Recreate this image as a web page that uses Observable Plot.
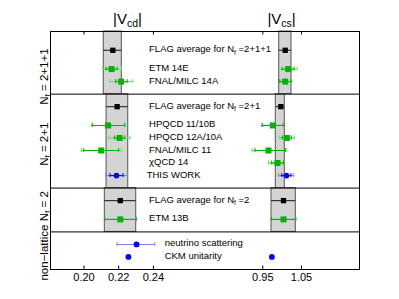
<!DOCTYPE html>
<html><head><meta charset="utf-8">
<script src="https://cdn.jsdelivr.net/npm/d3@7"></script>
<script src="https://cdn.jsdelivr.net/npm/@observablehq/plot@0.6"></script>
<style>body{margin:0;background:#fff} #chart{width:399px;height:299px}</style>
</head><body><div id="chart"></div>
<script>
// ---- data ----
const labels = ["FLAG average for N_f =2+1+1", "ETM 14E", "FNAL/MILC 14A",
  "FLAG average for N_f =2+1", "HPQCD 11/10B", "HPQCD 12A/10A", "FNAL/MILC 11", "χQCD 14", "THIS WORK",
  "FLAG average for N_f =2", "ETM 13B",
  "neutrino scattering", "CKM unitarity"];
const groups = ["2+1+1","2+1+1","2+1+1","2+1","2+1","2+1","2+1","2+1","2+1","2","2","non-lattice","non-lattice"];
const kinds = ["flag","lat","lat","flag","lat","lat","lat","lat","this","flag","lat","nu","ckm"];

const vcd       = [0.2166, 0.2159, 0.2214, 0.2191, 0.2139, 0.2205, 0.2099, null, 0.2187, 0.2209, 0.2209, 0.2303, 0.2256];
const vcdLo     = [0.2114, 0.2108, 0.2149, 0.2130, 0.2047, 0.2145, 0.1986, null, 0.2126, 0.2120, 0.2120, 0.2191, null];
const vcdHi     = [0.2218, 0.2216, 0.2281, 0.2255, 0.2235, 0.2266, 0.2214, null, 0.2251, 0.2301, 0.2301, 0.2408, null];
const vcdStatLo = [null, 0.2126, 0.2182, null, 0.2047, 0.2175, 0.1999, null, 0.2150, null, 0.2120, null, null];
const vcdStatHi = [null, 0.2192, 0.2249, null, 0.2235, 0.2235, 0.2200, null, 0.2225, null, 0.2301, null, null];

const vcs       = [1.0079, 1.0156, 1.0079, 0.9965, 0.9758, 1.0120, 0.9647, 0.9880, 1.0112, 1.0035, 1.0035, null, 0.9734];
const vcsLo     = [0.9924, 0.9924, 0.9939, 0.9836, 0.9484, 0.9924, 0.9226, 0.9647, 0.9906, 0.9725, 0.9725, null, null];
const vcsHi     = [1.0242, 1.0389, 1.0234, 1.0068, 1.0027, 1.0319, 1.0094, 1.0043, 1.0301, 1.0353, 1.0353, null, null];
const vcsStatLo = [null, 1.0000, 0.9939, null, 0.9484, 1.0000, 0.9300, 0.9720, 0.9990, null, 0.9725, null, null];
const vcsStatHi = [null, 1.0310, 1.0234, null, 1.0027, 1.0240, 1.0094, 1.0030, 1.0230, null, 1.0353, null, null];

const groupOrder = ["2+1+1", "2+1", "2", "non-lattice"];
const groupLabels = ["N_f = 2+1+1", "N_f = 2+1", "N_f = 2", "non−lattice"];
const columnTitles = ["|V_cd|", "|V_cs|"];
const xTicks = [0.20, 0.22, 0.24, 0.95, 1.05];

// ---- layout (row slots) ----
const slot = [];
const bounds = [0];
let s = 0;
groupOrder.forEach((g, gi) => {
  const idx = labels.map((_, i) => i).filter(i => groups[i] === g);
  idx.forEach((i, k) => {
    s += k === 0 ? (gi === 0 ? 3 : 2) : (kinds[idx[k - 1]] === "flag" ? 3 : 2);
    slot[i] = s;
  });
  s += 2;
  bounds.push(s);
});
const total = s;
const labelShift = [2.2, 0.5, -0.6, 0.3];
const groupRows = groupOrder.map((g, gi) => ({label: groupLabels[gi], pos: (bounds[gi] + bounds[gi + 1]) / 2 + labelShift[gi]}));

const rows = labels.map((name, i) => ({name, kind: kinds[i], slot: slot[i],
  gTop: bounds[groupOrder.indexOf(groups[i])], gBot: bounds[groupOrder.indexOf(groups[i]) + 1]}));

const pts = [];
rows.forEach((r, i) => {
  if (vcd[i] != null) pts.push({...r, col: "cd", val: vcd[i], lo: vcdLo[i], hi: vcdHi[i], slo: vcdStatLo[i], shi: vcdStatHi[i]});
  if (vcs[i] != null) pts.push({...r, col: "cs", val: vcs[i], lo: vcsLo[i], hi: vcsHi[i], slo: vcsStatLo[i], shi: vcsStatHi[i]});
});
const flagPts = pts.filter(d => d.kind === "flag");
const barPts = pts.filter(d => d.kind !== "flag" && d.lo != null);
const statPts = pts.filter(d => d.kind !== "flag" && d.slo != null);

const lightColor = d => (d.kind === "this" || d.kind === "nu") ? "#7f7fff" : "#6edc6e";
const darkColor = d => d.kind === "this" ? "#0000ff" : "#00b000";
const capH = 0.32;

const chart = Plot.plot({
  width: 399, height: 299,
  marginLeft: 50, marginRight: 40, marginTop: 31, marginBottom: 30,
  style: {fontFamily: "'Liberation Sans', Arial, sans-serif", background: "#fff", color: "#000"},
  x: {type: "linear", domain: [0.18069, 0.26715, 0.7890, 1.1999], range: [50, 200, 200, 359]},
  y: {domain: [0, total], reverse: true, axis: null},
  marks: [
    Plot.ruleX(xTicks, {x: d => d, y1: 0, y2: 0.55, stroke: "#000"}),
    Plot.ruleX(xTicks, {x: d => d, y1: total, y2: total - 0.55, stroke: "#000"}),
    Plot.rect(flagPts, {x1: "lo", x2: "hi", y1: "gTop", y2: "gBot", fill: "#d4d4d4", stroke: "#555", strokeWidth: 1}),
    Plot.ruleY(bounds.slice(1, -1), {stroke: "#000", strokeWidth: 1}),
    Plot.frame({stroke: "#000", strokeWidth: 1}),
    Plot.axisX({ticks: xTicks, tickSize: 0, tickPadding: 4, tickFormat: d => d.toFixed(2), fontSize: 11, label: null}),
    // FLAG bars
    Plot.ruleY(flagPts, {y: "slot", x1: "lo", x2: "hi", stroke: "#333", strokeWidth: 1.2}),
    // total error bars
    Plot.ruleY(barPts, {y: "slot", x1: "lo", x2: "hi", stroke: lightColor, strokeWidth: 1.1}),
    Plot.ruleX(barPts, {x: "lo", y1: d => d.slot - capH, y2: d => d.slot + capH, stroke: lightColor}),
    Plot.ruleX(barPts, {x: "hi", y1: d => d.slot - capH, y2: d => d.slot + capH, stroke: lightColor}),
    // statistical error bars
    Plot.ruleY(statPts, {y: "slot", x1: "slo", x2: "shi", stroke: darkColor, strokeWidth: 1.1}),
    Plot.ruleX(statPts, {x: "slo", y1: d => d.slot - capH, y2: d => d.slot + capH, stroke: darkColor}),
    Plot.ruleX(statPts, {x: "shi", y1: d => d.slot - capH, y2: d => d.slot + capH, stroke: darkColor}),
    // markers
    Plot.dot(pts.filter(d => d.kind === "flag"), {x: "val", y: "slot", symbol: "square", r: 3, fill: "#000"}),
    Plot.dot(pts.filter(d => d.kind === "lat"), {x: "val", y: "slot", symbol: "square", r: 3.4, fill: "#00b400"}),
    Plot.dot(pts.filter(d => d.kind === "this" || d.kind === "nu" || d.kind === "ckm"), {x: "val", y: "slot", symbol: "circle", r: 2.9, fill: "#0000ff"}),
    // entry labels
    Plot.text(rows, {x: d => (d.kind === "nu" || d.kind === "ckm") ? 0.2465 : d.kind === "this" ? 0.2361 : 0.2375,
      y: "slot", text: "name", textAnchor: "start", fontSize: 9.5, dy: -1, fill: "#000"}),
    // column titles
    Plot.text(columnTitles.map((t, i) => ({t, x: [0.2251, 0.9985][i]})), {x: "x", text: "t", frameAnchor: "top", lineAnchor: "bottom", dy: -8, fontSize: 15, fill: "#000"}),
    // group labels
    Plot.text(groupRows, {y: "pos", text: "label", frameAnchor: "left", rotate: -90, dx: -3, lineAnchor: "bottom", textAnchor: "middle", fontSize: 11.5, fill: "#000"})
  ]
});

// subscripts as real text
d3.select(chart).selectAll("text").each(function () {
  const t = this.textContent;
  if (!t.includes("_")) return;
  const parts = t.split(/_([a-z]+)/);
  const sel = d3.select(this);
  sel.text(null);
  let prevSub = false;
  parts.forEach((p, i) => {
    if (i % 2 === 1) {
      sel.append("tspan").attr("font-size", "70%").attr("dy", "0.35em").text(p);
      prevSub = true;
    } else if (p) {
      const ts = sel.append("tspan").text(p);
      if (prevSub) ts.attr("dy", "-0.245em");
      prevSub = false;
    }
  });
});

document.getElementById("chart").appendChild(chart);
</script>
</body></html>
